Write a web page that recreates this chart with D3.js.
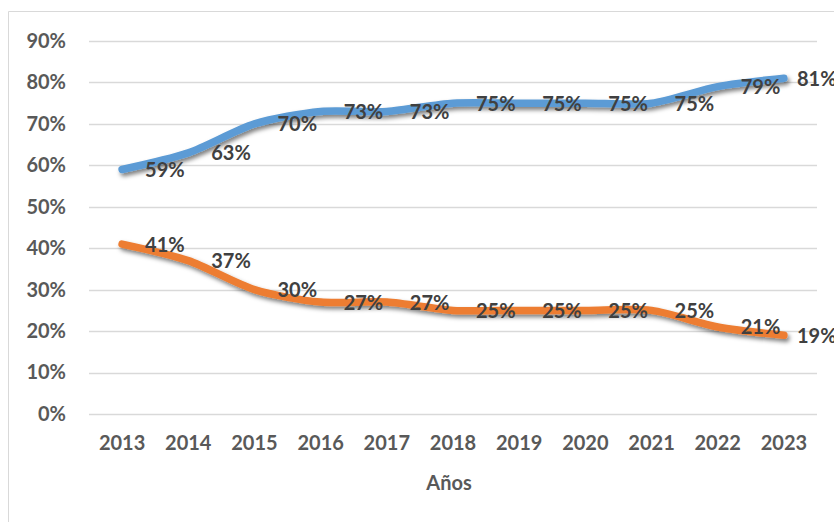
<!DOCTYPE html>
<html>
<head>
<meta charset="utf-8">
<script src="https://cdn.jsdelivr.net/npm/d3@7"></script>
<style>
    body { margin: 0; background: #fff; }
    svg { display: block; font-family: Lato, "Open Sans", sans-serif; font-weight: 700; }
</style>
</head>
<body>
<svg width="834" height="522"></svg>
<script>
const years = [2013, 2014, 2015, 2016, 2017, 2018, 2019, 2020, 2021, 2022, 2023];
const serieAzul = [59, 63, 70, 73, 73, 75, 75, 75, 75, 79, 81];
const serieNaranja = [41, 37, 30, 27, 27, 25, 25, 25, 25, 21, 19];
const yTicks = [0, 10, 20, 30, 40, 50, 60, 70, 80, 90];

const svg = d3.select("svg"),
    plotLeft = 89,
    plotRight = 817,
    plotTop = 41,
    plotBottom = 414,
    fontSize = 20;

// marco del gráfico
svg.append("path")
    .attr("d", "M8.5,522 V11.5 H834")
    .attr("fill", "none")
    .attr("stroke", "#d9d9d9")
    .attr("stroke-width", 1);

const scaleX = d3.scaleBand()
    .domain(years)
    .range([plotLeft, plotRight]);

const scaleY = d3.scaleLinear()
    .domain([0, 90])
    .range([plotBottom, plotTop]);

const cx = d => scaleX(d) + scaleX.bandwidth() / 2;

// rejilla
svg.append("g")
    .selectAll("line")
    .data(yTicks)
    .enter()
    .append("line")
    .attr("x1", plotLeft)
    .attr("x2", plotRight)
    .attr("y1", d => Math.round(scaleY(d)) + 0.5)
    .attr("y2", d => Math.round(scaleY(d)) + 0.5)
    .attr("stroke", "#d9d9d9")
    .attr("stroke-width", 1.3);

let axisY = d3.axisLeft(scaleY)
    .tickValues(yTicks)
    .tickFormat(d => d + "%")
    .tickSize(0)
    .tickPadding(0);

svg.append("g")
    .attr("transform", `translate(66, 0)`)
    .call(axisY)
    .call(g => g.select(".domain").remove())
    .selectAll("text")
    .attr("font-family", "Lato, sans-serif")
    .attr("font-weight", 700)
    .attr("font-size", fontSize)
    .attr("fill", "#595959");

let axisX = d3.axisBottom(scaleX)
    .tickSize(0)
    .tickPadding(0);

svg.append("g")
    .attr("transform", `translate(0, 436)`)
    .call(axisX)
    .call(g => g.select(".domain").remove())
    .selectAll("text")
    .attr("font-family", "Lato, sans-serif")
    .attr("font-weight", 700)
    .attr("font-size", fontSize)
    .attr("fill", "#595959");

svg.append("text")
    .attr("x", 449)
    .attr("y", 490)
    .attr("text-anchor", "middle")
    .attr("font-size", fontSize)
    .attr("fill", "#595959")
    .text("Años");

// sombra
const defs = svg.append("defs");
defs.append("filter")
    .attr("id", "sombra")
    .attr("x", "-10%").attr("y", "-50%")
    .attr("width", "120%").attr("height", "200%")
    .append("feDropShadow")
    .attr("dx", 2)
    .attr("dy", 3)
    .attr("stdDeviation", 2.2)
    .attr("flood-color", "#000")
    .attr("flood-opacity", 0.5);

const line = d3.line()
    .x((d, i) => cx(years[i]))
    .y(d => scaleY(d))
    .curve(d3.curveCardinal.tension(0.2));

function drawSerie(values, color) {
    svg.append("path")
        .datum(values)
        .attr("d", line)
        .attr("fill", "none")
        .attr("stroke", color)
        .attr("stroke-width", 7.5)
        .attr("stroke-linecap", "round")
        .attr("stroke-linejoin", "round")
        .attr("filter", "url(#sombra)");
}

function drawLabels(values) {
    svg.append("g")
        .selectAll("text")
        .data(values)
        .enter()
        .append("text")
        .attr("x", (d, i) => Math.min(cx(years[i]) + 23, 797))
        .attr("y", d => scaleY(d) + 7.5)
        .attr("font-size", fontSize)
        .attr("fill", "#404040")
        .text(d => d + "%");
}

drawSerie(serieAzul, "#5b9bd5");
drawSerie(serieNaranja, "#ed7d31");
drawLabels(serieAzul);
drawLabels(serieNaranja);
</script>
</body>
</html>
